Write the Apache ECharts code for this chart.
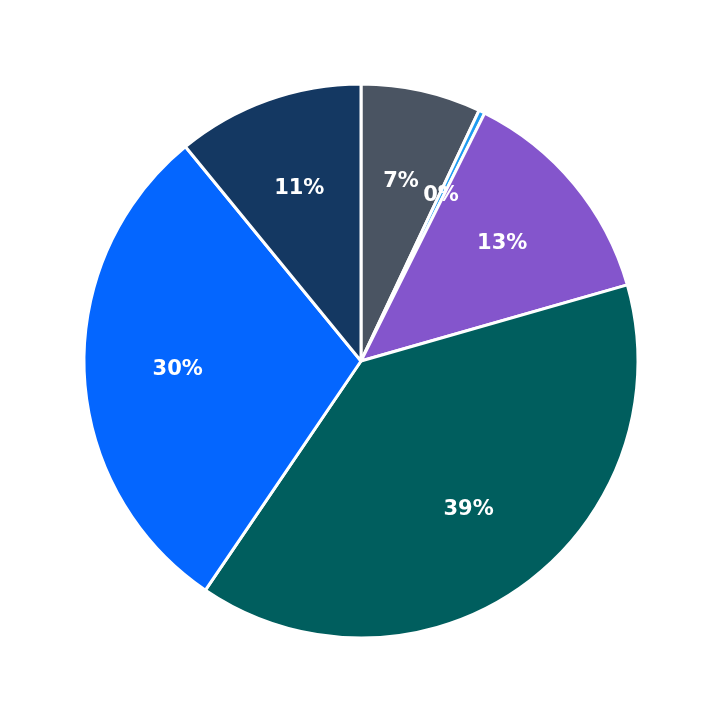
<!DOCTYPE html>
<html><head><meta charset="utf-8">
<script src="https://cdn.jsdelivr.net/npm/echarts@6/dist/echarts.min.js"></script>
<style>html,body{margin:0;background:#fff}#c{width:723px;height:723px}</style>
</head><body><div id="c"></div>
<script>
var names = ['A', 'B', 'C', 'D', 'E', 'F'];
var values = [7.06, 0.36, 13.3, 39.2, 29.8, 11.0];
var colors = ['#4a5462', '#1f9bf0', '#8455cc', '#005e5e', '#0466ff', '#143862'];

var data = names.map(function (n, i) {
    return {name: n, value: values[i], itemStyle: {color: colors[i]}};
});

var option = {
    animation: false,
    series: [
        {
            type: 'pie',
            center: [361, 361],
            radius: [0, 277],
            startAngle: 90,
            clockwise: true,
            itemStyle: {borderColor: '#fff', borderWidth: 3},
            label: {show: false},
            data: data
        },
        {   // transparent copy, only for label placement
            type: 'pie',
            silent: true,
            center: [361, 361],
            radius: [84, 277],
            startAngle: 90,
            itemStyle: {color: 'rgba(0,0,0,0)'},
            label: {
                show: true, position: 'inside', color: '#fff',
                fontSize: 21, fontWeight: 'bold', fontFamily: 'DejaVu Sans',
                formatter: function (p) { return Math.round(p.percent) + '%'; }
            },
            data: names.map(function (n, i) { return {name: n, value: values[i]}; })
        }
    ]
};
var mychart = echarts.init(document.getElementById('c'));
mychart.setOption(option);
</script></body></html>
